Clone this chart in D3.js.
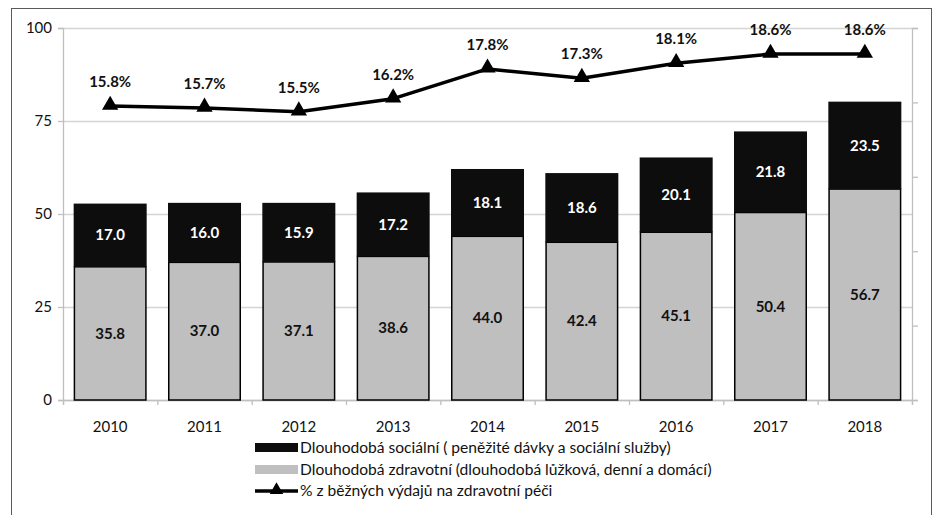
<!DOCTYPE html>
<html>
<head>
<meta charset="utf-8">
<script src="https://cdn.jsdelivr.net/npm/d3@7"></script>
<style>
  body { margin: 0; background: #fff; }
  svg { display: block; }
  text { font-family: Lato, "Open Sans", sans-serif; }
</style>
</head>
<body>
<svg id="chart" width="934" height="515"></svg>
<script>
// ---- data ----
const years = ["2010","2011","2012","2013","2014","2015","2016","2017","2018"];
const healthCare = [35.8, 37.0, 37.1, 38.6, 44.0, 42.4, 45.1, 50.4, 56.7];   // gray (bottom)
const socialCare = [17.0, 16.0, 15.9, 17.2, 18.1, 18.6, 20.1, 21.8, 23.5];   // black (top)
const shareOfHealth = [15.8, 15.7, 15.5, 16.2, 17.8, 17.3, 18.1, 18.6, 18.6]; // % line (secondary axis)
const leftTicks = [0, 25, 50, 75, 100];
const rightTicks = [0, 4, 8, 12, 16, 20];
const legendLabels = [
  "Dlouhodobá sociální ( peněžité dávky a sociální služby)",
  "Dlouhodobá zdravotní (dlouhodobá lůžková, denní a domácí)",
  "% z běžných výdajů na zdravotní péči"
];

// ---- layout ----
const svg = d3.select("#chart");
const L = 63, R = 912, T = 28, B = 400;
const gridColor = "#d4d4d4", axisColor = "#bfbfbf";
const darkFill = "#0d0d0d", grayFill = "#bfbfbf";
const tickFont = 15, valueFont = 15, legendFont = 15.6;

// outer frame
svg.append("rect").attr("x", 11.5).attr("y", 8.5).attr("width", 920).attr("height", 540)
  .attr("fill", "none").attr("stroke", "#5a5a5a").attr("stroke-width", 1);

const x = d3.scaleBand().domain(years).range([L, R]).paddingInner(0.226).paddingOuter(0.113);
const y = d3.scaleLinear().domain([0, 100]).range([B, T]);
const y2 = d3.scaleLinear().domain([0, 20]).range([B, T]);

// gridlines
svg.append("g").attr("transform", `translate(${L},0)`)
  .call(d3.axisLeft(y).tickValues(leftTicks).tickSize(-(R - L)).tickFormat(""))
  .call(g => g.select(".domain").remove())
  .call(g => g.selectAll("line").attr("stroke", gridColor).attr("stroke-width", 1.3));

// left axis
svg.append("g").attr("transform", `translate(${L},0)`)
  .call(d3.axisLeft(y).tickValues(leftTicks).tickSize(5).tickPadding(6))
  .call(g => g.select(".domain").attr("stroke", axisColor).attr("stroke-width", 1.3))
  .call(g => g.selectAll("line").attr("stroke", axisColor).attr("stroke-width", 1.3))
  .call(g => g.selectAll("text").attr("font-size", tickFont).attr("fill", "#111"));

// right axis (no labels)
svg.append("g").attr("transform", `translate(${R},0)`)
  .call(d3.axisRight(y2).tickValues(rightTicks).tickSize(6).tickFormat(""))
  .call(g => g.select(".domain").attr("stroke", axisColor).attr("stroke-width", 1.3))
  .call(g => g.selectAll("line").attr("stroke", axisColor).attr("stroke-width", 1.3));

// bottom axis: boundary ticks + category labels
const xb = d3.scaleLinear().domain([0, years.length]).range([L, R]);
svg.append("g").attr("transform", `translate(0,${B})`)
  .call(d3.axisBottom(xb).tickValues(d3.range(years.length + 1)).tickSize(5).tickFormat(""))
  .call(g => g.select(".domain").attr("stroke", axisColor).attr("stroke-width", 1.3))
  .call(g => g.selectAll("line").attr("stroke", axisColor).attr("stroke-width", 1.3));
const xLab = d3.scalePoint().domain(years).range([L + (R - L) / 18, R - (R - L) / 18]);
svg.append("g").selectAll("text").data(years).join("text")
  .attr("x", d => xLab(d)).attr("y", 432)
  .attr("text-anchor", "middle").attr("font-size", tickFont).attr("fill", "#111")
  .text(d => d);

// bars
const bw = x.bandwidth();
const rows = years.map((yr, i) => ({ yr, h: healthCare[i], s: socialCare[i] }));

svg.append("g").selectAll("rect").data(rows).join("rect")
  .attr("x", d => x(d.yr) + 0.75).attr("width", bw - 1.5)
  .attr("y", d => y(d.h)).attr("height", d => y(0) - y(d.h))
  .attr("fill", grayFill).attr("stroke", "#000").attr("stroke-width", 1.5);

svg.append("g").selectAll("rect").data(rows).join("rect")
  .attr("x", d => x(d.yr)).attr("width", bw)
  .attr("y", d => y(d.h + d.s)).attr("height", d => y(d.h) - y(d.h + d.s))
  .attr("fill", darkFill);

// bar labels
svg.append("g").selectAll("text").data(rows).join("text")
  .attr("x", d => x(d.yr) + bw / 2).attr("y", d => y(d.h / 2))
  .attr("dy", "0.35em").attr("text-anchor", "middle")
  .attr("font-size", valueFont).attr("font-weight", "bold").attr("fill", "#111")
  .text(d => d.h.toFixed(1));

svg.append("g").selectAll("text").data(rows).join("text")
  .attr("x", d => x(d.yr) + bw / 2).attr("y", d => y(d.h + d.s / 2))
  .attr("dy", "0.35em").attr("text-anchor", "middle")
  .attr("font-size", valueFont).attr("font-weight", "bold").attr("fill", "#fff")
  .text(d => d.s.toFixed(1));

// line
const pts = years.map((yr, i) => ({ yr, v: shareOfHealth[i] }));
const line = d3.line().x(d => x(d.yr) + bw / 2).y(d => y2(d.v));
svg.append("path").datum(pts).attr("d", line)
  .attr("fill", "none").attr("stroke", "#000").attr("stroke-width", 3.5).attr("stroke-linejoin", "round");

const tri = d3.symbol().type(d3.symbolTriangle).size(115);
svg.append("g").selectAll("path").data(pts).join("path")
  .attr("transform", d => `translate(${x(d.yr) + bw / 2},${y2(d.v) - 1})`)
  .attr("d", tri).attr("fill", "#000");

svg.append("g").selectAll("text").data(pts).join("text")
  .attr("x", d => x(d.yr) + bw / 2).attr("y", d => y2(d.v) - 19)
  .attr("text-anchor", "middle")
  .attr("font-size", valueFont).attr("font-weight", "bold").attr("fill", "#111")
  .text(d => d.v.toFixed(1) + "%");

// legend
const lg = svg.append("g");
const lx = 255, lw = 43, ly = [448, 470, 491];
lg.append("rect").attr("x", lx).attr("y", ly[0] - 5).attr("width", lw).attr("height", 9).attr("fill", darkFill);
lg.append("rect").attr("x", lx).attr("y", ly[1] - 5).attr("width", lw).attr("height", 9).attr("fill", grayFill);
lg.append("line").attr("x1", lx).attr("x2", lx + lw).attr("y1", ly[2]).attr("y2", ly[2])
  .attr("stroke", "#000").attr("stroke-width", 3.5);
lg.append("path").attr("transform", `translate(${lx + lw / 2},${ly[2] - 1})`)
  .attr("d", d3.symbol().type(d3.symbolTriangle).size(80)).attr("fill", "#000");
lg.selectAll("text").data(legendLabels).join("text")
  .attr("x", 300).attr("y", (d, i) => ly[i]).attr("dy", "0.35em")
  .attr("font-size", legendFont).attr("fill", "#111")
  .text(d => d);
</script>
</body>
</html>
